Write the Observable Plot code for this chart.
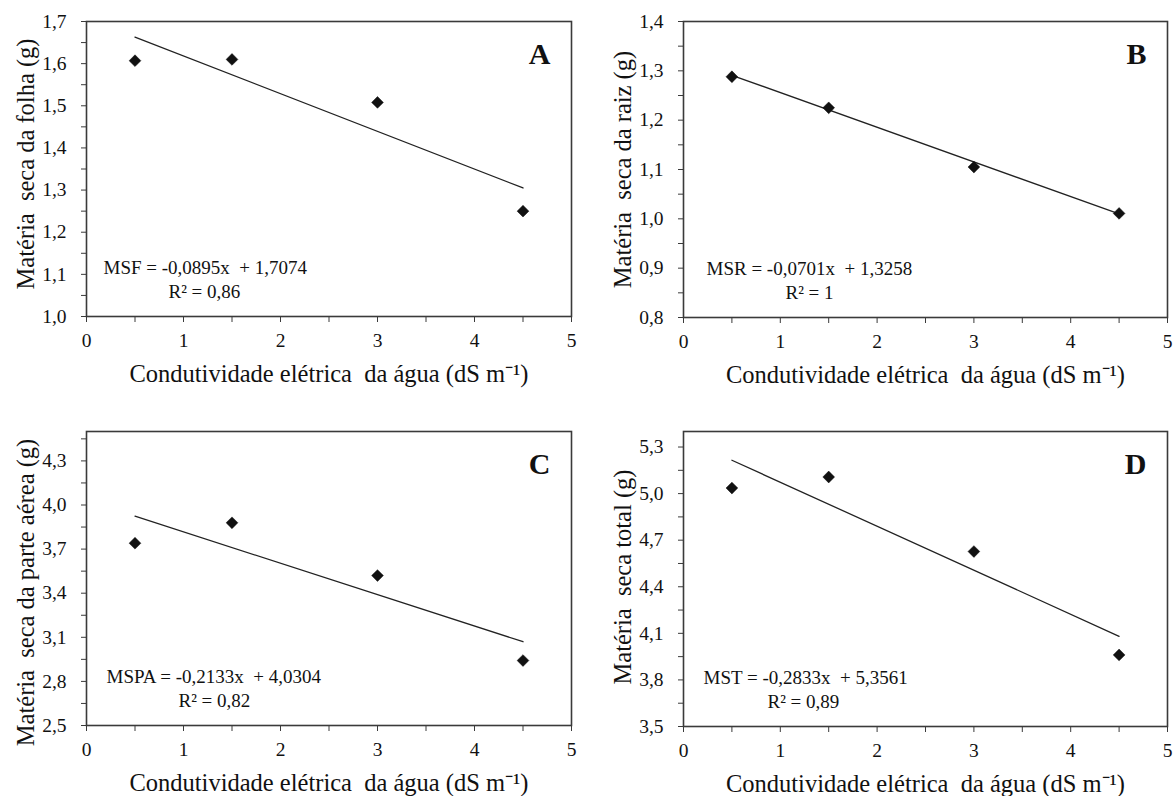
<!DOCTYPE html>
<html>
<head>
<meta charset="utf-8">
<script src="https://cdn.jsdelivr.net/npm/d3@7"></script>
<script src="https://cdn.jsdelivr.net/npm/@observablehq/plot@0.6"></script>
<style>
  html, body { margin: 0; padding: 0; background: #fff; }
  #wrap { position: relative; width: 1176px; height: 796px; background: #fff; font-family: "Liberation Serif"; overflow: hidden; }
  .panel { position: absolute; }
</style>
</head>
<body>
<div id="wrap"></div>
<script>
// ---- data ----
const conductivity = [0.5, 1.5, 3.0, 4.5];       // dS m-1
const msfValues  = [1.607, 1.610, 1.508, 1.250]; // A
const msrValues  = [1.288, 1.225, 1.105, 1.011]; // B
const mspaValues = [3.740, 3.879, 3.520, 2.942]; // C
const mstValues  = [5.036, 5.107, 4.627, 3.961]; // D

const trendX    = [0.5, 4.5];
const msfTrend  = [1.663, 1.305];
const msrTrend  = [1.291, 1.010];
const mspaTrend = [3.924, 3.070];
const mstTrend  = [5.215, 4.081];

const xTicks = [0, 1, 2, 3, 4, 5];
const xMinorTicks = [0.5, 1.5, 2.5, 3.5, 4.5];
const yTicksA = [1.0, 1.1, 1.2, 1.3, 1.4, 1.5, 1.6, 1.7];
const yTicksB = [0.8, 0.9, 1.0, 1.1, 1.2, 1.3, 1.4];
const yTicksC = [2.5, 2.8, 3.1, 3.4, 3.7, 4.0, 4.3];
const yTicksD = [3.5, 3.8, 4.1, 4.4, 4.7, 5.0, 5.3];
const yMinorA = [1.05, 1.15, 1.25, 1.35, 1.45, 1.55, 1.65];
const yMinorB = [0.85, 0.95, 1.05, 1.15, 1.25, 1.35];
const yMinorC = [2.65, 2.95, 3.25, 3.55, 3.85, 4.15, 4.45];
const yMinorD = [3.65, 3.95, 4.25, 4.55, 4.85, 5.15];

const xLabel = "Condutividade elétrica  da água (dS m\u207B\u00B9)";
const yLabels = ["Matéria  seca da folha (g)", "Matéria  seca da raiz (g)", "Matéria  seca da parte aérea (g)", "Matéria  seca total (g)"];
const panelLetters = ["A", "B", "C", "D"];
const equations = ["MSF = -0,0895x  + 1,7074", "MSR = -0,0701x  + 1,3258", "MSPA = -0,2133x  + 4,0304", "MST = -0,2833x  + 5,3561"];
const r2Labels = ["R\u00B2 = 0,86", "R\u00B2 = 1", "R\u00B2 = 0,82", "R\u00B2 = 0,89"];

const commaFmt = d => d3.format(".1f")(d).replace(".", ",");
const serifCss = '"Liberation Serif"';

const panels = [
  {values: msfValues,  trend: msfTrend,  yDomain: [1.0, 1.7], yTicks: yTicksA, yMinor: yMinorA,
   left: 0,   top: 0,   width: 590, height: 400, mL: 86, mR: 19, mT: 21, mB: 84, eqDx: 17, r2Dx: 82, labDy: -5},
  {values: msrValues,  trend: msrTrend,  yDomain: [0.8, 1.4], yTicks: yTicksB, yMinor: yMinorB,
   left: 590, top: 0,   width: 586, height: 400, mL: 93, mR: 9,  mT: 21, mB: 83, eqDx: 23, r2Dx: 102, labDy: 0},
  {values: mspaValues, trend: mspaTrend, yDomain: [2.5, 4.5], yTicks: yTicksC, yMinor: yMinorC,
   left: 0,   top: 396, width: 590, height: 400, mL: 86, mR: 19, mT: 35, mB: 71, eqDx: 20, r2Dx: 92, labDy: 14},
  {values: mstValues,  trend: mstTrend,  yDomain: [3.5, 5.4], yTicks: yTicksD, yMinor: yMinorD,
   left: 590, top: 396, width: 586, height: 400, mL: 93, mR: 9,  mT: 35, mB: 70, eqDx: 20, r2Dx: 84, labDy: -2}
];

const ink = "#111";
const frameInk = "#3a3a3a";

panels.forEach((p, i) => {
  const points = conductivity.map((x, j) => ({x, y: p.values[j]}));
  const trend = trendX.map((x, j) => ({x, y: p.trend[j]}));
  const chart = Plot.plot({
    width: p.width,
    height: p.height,
    marginLeft: p.mL, marginRight: p.mR, marginTop: p.mT, marginBottom: p.mB,
    style: {color: ink, background: "transparent"},
    x: {domain: [0, 5]},
    y: {domain: p.yDomain},
    marks: [
      Plot.axisX({ticks: xTicks, tickFormat: d => String(d), tickSize: 6, tickPadding: 11, fontSize: 19.5, stroke: frameInk, label: null}),
      Plot.axisX({ticks: xMinorTicks, tickFormat: () => "", tickSize: 6, stroke: frameInk, label: null}),
      Plot.axisY({ticks: p.yTicks, tickFormat: commaFmt, tickSize: 5, tickPadding: 15, fontSize: 19.5, stroke: frameInk, label: null}),
      Plot.axisY({ticks: p.yMinor, tickFormat: () => "", tickSize: 5, stroke: frameInk, label: null}),
      Plot.frame({stroke: frameInk, strokeWidth: 1.6}),
      Plot.line(trend, {x: "x", y: "y", stroke: "#222", strokeWidth: 1.3}),
      Plot.dot(points, {x: "x", y: "y", symbol: "diamond2", r: 5.3, fill: ink, stroke: ink, strokeWidth: 0.5}),
      Plot.text([panelLetters[i]], {frameAnchor: "top-right", dx: -21, dy: 33, text: d => d, textAnchor: "end", lineAnchor: "middle", fontSize: 30, fontWeight: "bold", fill: ink}),
      Plot.text([equations[i]], {frameAnchor: "bottom-left", dx: p.eqDx, dy: -49, text: d => d, textAnchor: "start", lineAnchor: "middle", fontSize: 19, fill: ink}),
      Plot.text([r2Labels[i]], {frameAnchor: "bottom-left", dx: p.r2Dx, dy: -25, text: d => d, textAnchor: "start", lineAnchor: "middle", fontSize: 19, fill: ink}),
      Plot.text([xLabel], {frameAnchor: "bottom", dy: 58, text: d => d, textAnchor: "middle", lineAnchor: "middle", fontSize: 24.5, fill: ink}),
      Plot.text([yLabels[i]], {frameAnchor: "left", dx: -60, dy: p.labDy, rotate: -90, text: d => d, textAnchor: "middle", lineAnchor: "middle", fontSize: 24.5, fill: ink})
    ]
  });
  chart.style.setProperty("font-family", serifCss, "important");
  chart.querySelectorAll("g, text").forEach(el => {
    el.removeAttribute("font-family");
    el.style.setProperty("font-family", serifCss, "important");
  });
  const div = document.createElement("div");
  div.className = "panel";
  div.style.left = p.left + "px";
  div.style.top = p.top + "px";
  div.appendChild(chart);
  document.getElementById("wrap").appendChild(div);
});
</script>
</body>
</html>
